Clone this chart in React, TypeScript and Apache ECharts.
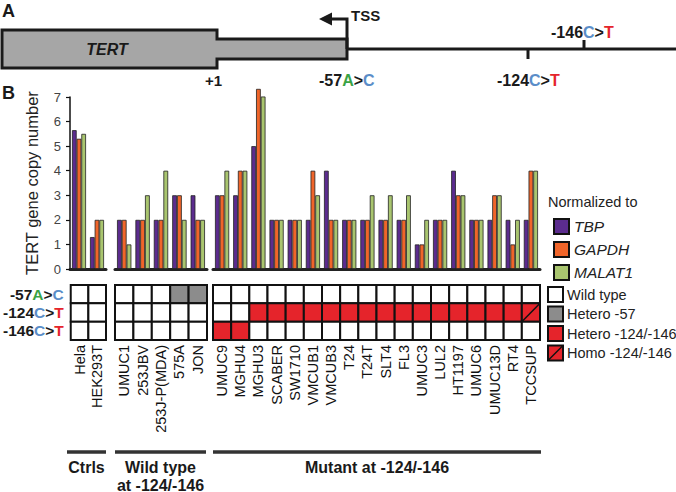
import React, { useEffect, useRef } from "react";
import * as echarts from "echarts";

// ---------- data ----------
const ctrlCells = ["Hela", "HEK293T"];
const wildCells = ["UMUC1", "253JBV", "253J-P(MDA)", "575A", "JON"];
const mutantCells = [
  "UMUC9", "MGHU4", "MGHU3", "SCABER", "SW1710", "VMCUB1", "VMCUB3", "T24", "T24T",
  "SLT4", "FL3", "UMUC3", "LUL2", "HT1197", "UMUC6", "UMUC13D", "RT4", "TCCSUP",
];
const normalizers = ["TBP", "GAPDH", "MALAT1"];
const tbp = [5.65, 1.3, 2, 2, 2, 3, 3, 3, 3, 5.0, 2, 2, 2, 4, 2, 2, 2, 2, 1, 2, 4, 2, 2, 2, 2];
const gapdh = [5.3, 2, 2, 2, 2, 3, 2, 3, 4, 7.33, 2, 2, 4, 2, 2, 2, 2, 2, 1, 2, 3, 2, 3, 1, 4];
const malat1 = [5.5, 2, 1, 3, 4, 2, 2, 4, 4, 7.02, 2, 2, 3, 2, 2, 3, 3, 3, 2, 2, 3, 2, 3, 2, 4];
const yMin = 0;
const yMax = 7;
const yStep = 1;
// mutation status: 0 wild type, 1 hetero -57, 2 hetero -124/-146, 3 homo -124/-146
const mut57 = [0, 0, 0, 0, 0, 1, 1, 0, 0, 0, 0, 0, 0, 0, 0, 0, 0, 0, 0, 0, 0, 0, 0, 0, 0];
const mut124 = [0, 0, 0, 0, 0, 0, 0, 0, 0, 2, 2, 2, 2, 2, 2, 2, 2, 2, 2, 2, 2, 2, 2, 2, 3];
const mut146 = [0, 0, 0, 0, 0, 0, 0, 2, 2, 0, 0, 0, 0, 0, 0, 0, 0, 0, 0, 0, 0, 0, 0, 0, 0];
const rowPrefix = ["-57", "-124", "-146"];
const rowFrom = ["A", "C", "C"];
const rowTo = ["C", "T", "T"];
const statusNames = ["Wild type", "Hetero -57", "Hetero -124/-146", "Homo -124/-146"];
const groupNames = ["Ctrls", "Wild type\nat -124/-146", "Mutant at -124/-146"];

// ---------- styles ----------
const FONT = "'Liberation Sans', Arial, Helvetica, sans-serif";
const barColors = ["#5b2c8e", "#f0652a", "#a9c56f"];
const statusColors = ["#ffffff", "#8c8c8c", "#e5242b", "#e5242b"];
const baseColors: Record<string, string> = { A: "#3aa345", C: "#5a8dc8", T: "#e5242b" };

const groupsLayout = [
  { left: 70, width: 36 },
  { left: 115, width: 92 },
  { left: 213, width: 327 },
];
const barTop = 97;
const barBottom = 269;
const heatTop = 285;
const heatBottom = 340;

function richRow(i: number) {
  const key = (b: string) => (b === "A" ? "g" : b === "C" ? "b" : "r");
  return `{k|${rowPrefix[i]}}{${key(rowFrom[i])}|${rowFrom[i]}}{k|>}{${key(rowTo[i])}|${rowTo[i]}}`;
}
const richStyles = (size: number) => {
  const mk = (c: string) => ({ fontSize: size, fontWeight: "bold", color: c, fill: c, fontFamily: FONT });
  return { k: mk("#1a1a1a"), g: mk(baseColors.A), b: mk(baseColors.C), r: mk(baseColors.T) };
};

export default function App() {
  const ref = useRef<HTMLDivElement>(null);
  useEffect(() => {
    if (!ref.current) return;
    const chart = echarts.init(ref.current, undefined, { renderer: "svg" });

    const groups = [ctrlCells, wildCells, mutantCells];
    const offsets = [0, ctrlCells.length, ctrlCells.length + wildCells.length];
    const values = [tbp, gapdh, malat1];
    const statusRows = [mut57, mut124, mut146];

    const grids: any[] = [];
    const xAxes: any[] = [];
    const yAxes: any[] = [];
    const series: any[] = [];

    // bar grids 0..2
    groups.forEach((cats, g) => {
      grids.push({ left: groupsLayout[g].left, width: groupsLayout[g].width, top: barTop, height: barBottom - barTop });
      xAxes.push({
        type: "category", gridIndex: g, data: cats,
        axisLine: { show: true, lineStyle: { color: "#222", width: 3 } },
        axisTick: { show: false }, axisLabel: { show: false },
      });
      yAxes.push({
        type: "value", gridIndex: g, min: yMin, max: yMax, interval: yStep,
        show: g === 0,
        axisLine: { show: true, lineStyle: { color: "#111", width: 1.5 } },
        axisTick: { show: true, length: 4, lineStyle: { color: "#111", width: 1.2 } },
        axisLabel: { fontSize: 13, color: "#444", margin: 9, fontFamily: FONT },
        splitLine: { show: false },
        name: g === 0 ? "TERT gene copy number" : "",
        nameLocation: "middle", nameGap: 30,
        nameTextStyle: { fontSize: 16.5, color: "#222", fontFamily: FONT },
      });
      normalizers.forEach((n, k) => {
        series.push({
          type: "bar", name: n, xAxisIndex: g, yAxisIndex: g,
          data: values[k].slice(offsets[g], offsets[g] + cats.length),
          barGap: "0%", barCategoryGap: "22%", clip: false,
          itemStyle: { color: barColors[k], borderColor: "#222", borderWidth: 0.8 },
        });
      });
    });

    // heat grids 3..5
    groups.forEach((cats, g) => {
      const gi = 3 + g;
      grids.push({ left: groupsLayout[g].left, width: groupsLayout[g].width, top: heatTop, height: heatBottom - heatTop });
      xAxes.push({
        type: "category", gridIndex: gi, data: cats,
        axisLine: { show: false }, axisTick: { show: false },
        axisLabel: { rotate: 90, fontSize: 14.5, color: "#111", margin: 5, interval: 0, fontFamily: FONT },
      });
      yAxes.push({
        type: "category", gridIndex: gi, data: rowPrefix, inverse: true,
        axisLine: { show: false }, axisTick: { show: false },
        axisLabel: g === 0
          ? { show: true, margin: 7, formatter: (_v: string, i: number) => richRow(i), rich: richStyles(15.5) }
          : { show: false },
      });
      const data: number[][] = [];
      cats.forEach((_c, i) => {
        statusRows.forEach((row, r) => data.push([i, r, row[offsets[g] + i]]));
      });
      series.push({
        type: "custom", xAxisIndex: gi, yAxisIndex: gi, data,
        renderItem: (_p: any, api: any) => {
          const s = api.value(2);
          const c = api.coord([api.value(0), api.value(1)]);
          const sz = api.size([1, 1]);
          const w = sz[0], h = sz[1];
          const x0 = c[0] - w / 2, y0 = c[1] - h / 2;
          const children: any[] = [{
            type: "rect", shape: { x: x0, y: y0, width: w, height: h },
            style: { fill: statusColors[s], stroke: "#111", lineWidth: 2 },
          }];
          if (s === 3) {
            children.push({ type: "line", shape: { x1: x0, y1: y0 + h, x2: x0 + w, y2: y0 }, style: { stroke: "#111", lineWidth: 1.5 } });
          }
          return { type: "group", children };
        },
      });
    });

    const bold = (text: string, x: number, y: number, size: number, align = "left", extra: any = {}) => ({
      type: "text", x, y,
      style: { text, fontSize: size, fontWeight: "bold", fill: "#1a1a1a", fontFamily: FONT, align, verticalAlign: "middle", ...extra },
    });

    const graphic: any[] = [
      // Panel A
      bold("A", 2, 11, 18),
      {
        type: "polygon",
        shape: { points: [[2, 30], [217, 30], [217, 39], [347, 39], [347, 59], [217, 59], [217, 68], [2, 68]] },
        style: { fill: "#a6a6a6", stroke: "#1a1a1a", lineWidth: 3 },
      },
      { type: "line", shape: { x1: 347, y1: 49, x2: 676, y2: 49 }, style: { stroke: "#1a1a1a", lineWidth: 3 } },
      { type: "polyline", shape: { points: [[347, 49], [347, 19], [330, 19]] }, style: { stroke: "#1a1a1a", lineWidth: 3, fill: null } },
      { type: "polygon", shape: { points: [[319, 19], [332, 12.5], [332, 25.5]] }, style: { fill: "#1a1a1a" } },
      { type: "line", shape: { x1: 528, y1: 49, x2: 528, y2: 59 }, style: { stroke: "#1a1a1a", lineWidth: 3 } },
      { type: "line", shape: { x1: 584, y1: 40, x2: 584, y2: 49 }, style: { stroke: "#1a1a1a", lineWidth: 3 } },
      bold("TERT", 107, 49, 16, "center", { fontStyle: "italic" }),
      bold("TSS", 351, 15, 15),
      bold("+1", 205, 80, 15),
      { type: "text", x: 319, y: 80, style: { text: "{k|-57}{g|A}{k|>}{b|C}", rich: richStyles(16), verticalAlign: "middle" } },
      { type: "text", x: 497, y: 80, style: { text: "{k|-124}{b|C}{k|>}{r|T}", rich: richStyles(16), verticalAlign: "middle" } },
      { type: "text", x: 551, y: 32, style: { text: "{k|-146}{b|C}{k|>}{r|T}", rich: richStyles(16), verticalAlign: "middle" } },
      // Panel B
      bold("B", 2, 93, 18),
      {
        type: "text", x: 548, y: 202,
        style: { text: "Normalized to", fontSize: 14.5, fill: "#222", fontFamily: FONT, verticalAlign: "middle" },
      },
    ];

    // mutation status legend
    statusNames.forEach((n, i) => {
      const y = 287 + i * 19.5;
      graphic.push({
        type: "rect", shape: { x: 548, y, width: 15, height: 15 },
        style: { fill: statusColors[i], stroke: "#111", lineWidth: 2 },
      });
      if (i === 3) {
        graphic.push({ type: "line", shape: { x1: 548, y1: y + 15, x2: 563, y2: y }, style: { stroke: "#111", lineWidth: 1.5 } });
      }
      graphic.push({
        type: "text", x: 567, y: y + 7.5,
        style: { text: n, fontSize: 14.5, fill: "#222", fontFamily: FONT, verticalAlign: "middle" },
      });
    });

    // group brackets
    const brackets = [[67, 106], [115, 206], [213, 541]];
    brackets.forEach(([a, b], i) => {
      graphic.push({ type: "line", shape: { x1: a, y1: 452, x2: b, y2: 452 }, style: { stroke: "#333", lineWidth: 3.5 } });
      graphic.push({
        type: "text", x: (a + b) / 2, y: 458,
        style: { text: groupNames[i], fontSize: 16, fontWeight: "bold", fill: "#1a1a1a", fontFamily: FONT, align: "center", verticalAlign: "top", lineHeight: 18 },
      });
    });

    chart.setOption({
      animation: false,
      textStyle: { fontFamily: FONT },
      grid: grids,
      xAxis: xAxes,
      yAxis: yAxes,
      series,
      legend: {
        data: normalizers, orient: "vertical", left: 548, top: 213,
        itemWidth: 15, itemHeight: 15, itemGap: 6, selectedMode: false,
        icon: "rect",
        itemStyle: { borderColor: "#111", borderWidth: 2 },
        textStyle: { fontSize: 15.5, fontStyle: "italic", color: "#222", fontFamily: FONT, padding: [0, 0, 0, 0] },
      },
      graphic,
    });
    return () => chart.dispose();
  }, []);
  return <div ref={ref} style={{ position: "fixed", left: 0, top: 0, width: 676, height: 492, background: "#fff" }} />;
}
